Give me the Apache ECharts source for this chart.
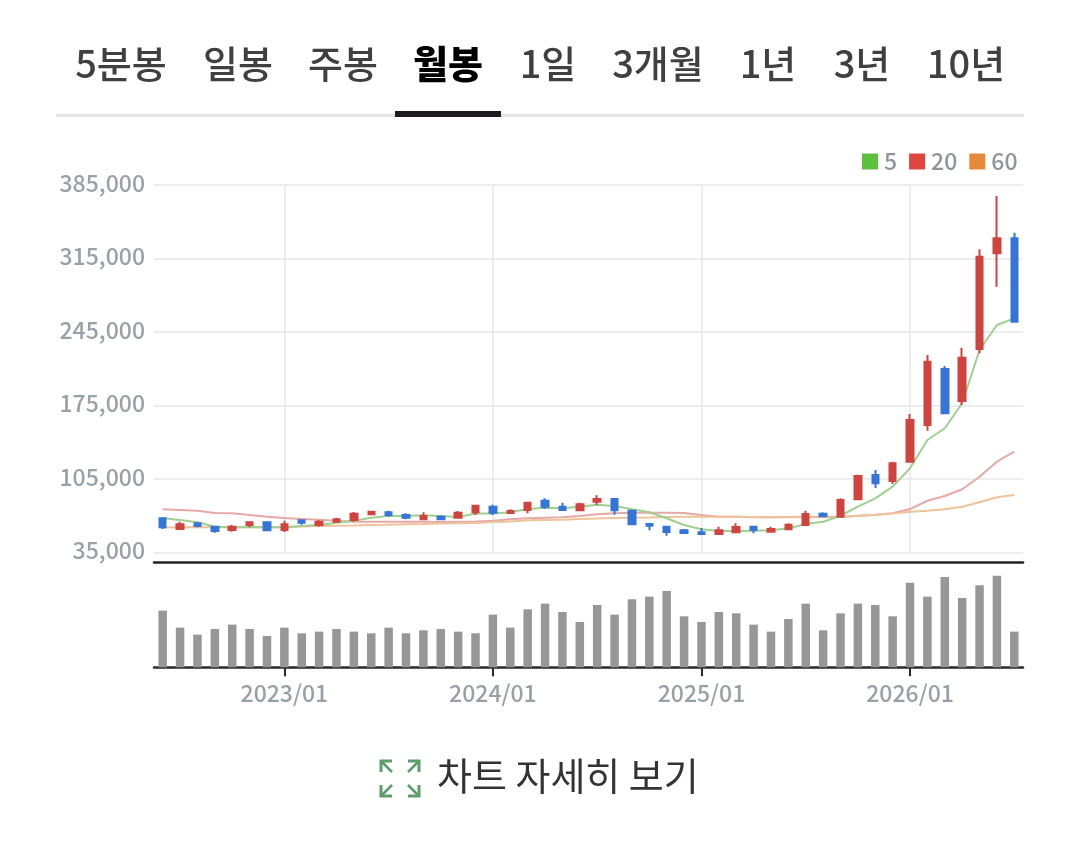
<!DOCTYPE html>
<html><head><meta charset="utf-8">
<style>html,body{margin:0;padding:0;background:#fff}#c{width:1080px;height:843px}</style>
<script src="https://cdn.jsdelivr.net/npm/echarts@6/dist/echarts.min.js"></script>
</head><body><div id="c"></div>
<script>
const months = ['2022/06','2022/07','2022/08','2022/09','2022/10','2022/11','2022/12',
'2023/01','2023/02','2023/03','2023/04','2023/05','2023/06','2023/07','2023/08','2023/09','2023/10','2023/11','2023/12',
'2024/01','2024/02','2024/03','2024/04','2024/05','2024/06','2024/07','2024/08','2024/09','2024/10','2024/11','2024/12',
'2025/01','2025/02','2025/03','2025/04','2025/05','2025/06','2025/07','2025/08','2025/09','2025/10','2025/11','2025/12',
'2026/01','2026/02','2026/03','2026/04','2026/05','2026/06','2026/07'];
// [open, close, low, high]
const candles = [
[67600,59000,57400,67900],[57400,61900,57400,64300],[62800,60200,59000,62800],[59600,55500,53600,59600],[56400,59600,54800,61200],
[61200,63800,59000,63800],[63800,56100,56100,63800],[56400,61900,54500,65300],[65700,63400,61500,65700],[61200,64300,59600,66000],
[64300,66600,63400,68100],[66000,72000,64300,73600],[71400,73900,71400,74800],[73300,70700,69100,74800],[70700,68100,66600,72300],
[66600,69800,66000,73300],[69100,66600,66600,70400],[68100,72900,68100,74500],[73300,79600,70700,79600],[78600,72900,70700,80500],
[72600,74500,72600,76100],[75500,82400,72300,83100],[84300,78600,76400,86600],[78600,75500,75500,82400],[75200,80900,75200,82400],
[83400,86000,80200,89500],[86000,75200,71000,86000],[74800,61900,61900,75800],[62100,60500,56100,62100],[59600,54500,51000,59600],
[56100,53600,52600,57400],[54200,52600,52600,58300],[52600,56100,52600,59600],[54200,59300,53300,62800],[59600,56400,53300,59600],
[54800,57400,54800,59600],[57100,61500,57100,62800],[61200,71700,60200,74800],[72000,69500,69500,73300],[69100,85000,68100,86600],
[85700,107900,85700,109100],[108800,100900,96400,113600],[103100,120000,100200,121500],[121500,161200,120500,166900],[156400,216700,151000,223100],
[209800,167600,167600,212600],[179300,220500,175500,230000],[228800,316700,224700,323800],[320000,334200,288100,374500],[334200,254800,254800,339600]];
const ma5 = [67600,66000,63800,59600,59000,59300,59000,59000,60200,61200,63400,65300,68100,69800,69800,70400,69800,68800,72100,72100,73300,76400,77700,77100,78600,80500,79300,76100,73300,67600,61200,57100,55500,55500,55800,56100,58000,62100,64300,70000,78600,86600,97700,115200,142100,153300,177100,227900,251700,258000];
const ma20 = [76100,75500,74800,72600,72300,70700,69100,67900,66900,66200,65300,64300,64300,64300,64300,64300,64000,64300,64500,65300,66600,67600,68100,68500,69800,71400,72300,72900,72900,72900,72600,70700,69100,69100,68500,68500,68800,69100,69100,69100,70000,71000,72300,76400,84300,88800,95200,107200,121500,131000];
const ma60 = [58800,59000,59000,59000,59000,59000,59000,59000,59800,60200,60500,60700,61200,61500,61900,62100,62600,62800,63100,64000,64500,65800,66000,66200,66900,67400,67900,68100,68300,68800,69000,69100,69100,69000,68800,68500,68500,68500,68500,68800,69800,70700,72100,73900,74800,76100,78600,82800,87600,89800];
const volume = [170,119,98,115,128,115,94,119,102,107,115,107,102,119,102,111,115,107,102,158,119,174,191,166,136,187,158,204,212,229,153,136,166,162,128,107,145,191,111,162,191,187,153,254,212,271,208,246,275,107];
const tabs = ['5분봉','일봉','주봉','월봉','1일','3개월','1년','3년','10년'];
const tabCenters = [121,238,343,448,548,658,768,862,966];
const activeTab = '월봉';
const footerText = '차트 자세히 보기';

const FONT = '"Noto Sans CJK KR","Noto Sans",sans-serif';
const isJan = (i, v) => String(v).endsWith('/01');
const UP = '#d0433f', DOWN = '#3575d8';

const graphics = [];
graphics.push({type:'rect',shape:{x:56,y:114,width:968,height:3},style:{fill:'#e4e4e4'},silent:true});
graphics.push({type:'rect',shape:{x:395,y:111,width:106,height:6},style:{fill:'#1c1c20'},silent:true});
tabs.forEach((t,i)=>graphics.push({type:'text',x:tabCenters[i],y:64,silent:true,style:{
  text:t,align:'center',verticalAlign:'middle',fontFamily:FONT,fontSize:38,
  fontWeight:t===activeTab?900:500,fill:t===activeTab?'#000':'#404040'}}));
graphics.push({type:'text',x:437,y:776,silent:true,style:{text:footerText,align:'left',verticalAlign:'middle',fontFamily:FONT,fontSize:38,fontWeight:400,fill:'#333'}});
const ic = '#5a9e6a';
[[[392,761],[381,761],[381,772]],[[408,761],[419,761],[419,772]],[[381,785],[381,796],[392,796]],[[408,796],[419,796],[419,785]]].forEach(p=>
  graphics.push({type:'polyline',shape:{points:p},style:{stroke:ic,lineWidth:3,fill:null},silent:true}));
[[[381,761],[392,772]],[[419,761],[408,772]],[[381,796],[392,785]],[[419,796],[408,785]]].forEach(p=>
  graphics.push({type:'polyline',shape:{points:p},style:{stroke:ic,lineWidth:2.5,fill:null},silent:true}));

const chart = echarts.init(document.getElementById('c'),null,{renderer:'canvas'});
chart.setOption({
  animation:false,
  backgroundColor:'#fff',
  textStyle:{fontFamily:FONT},
  graphic:graphics,
  legend:{
    data:[{name:'5',icon:'rect'},{name:'20',icon:'rect'},{name:'60',icon:'rect'}],
    left:862,top:150,itemWidth:16,itemHeight:16,itemGap:12,selectedMode:false,padding:0,
    textStyle:{color:'#8f959c',fontSize:23,fontWeight:500,fontFamily:FONT,padding:[0,0,3,1]}
  },
  grid:[
    {left:154,width:869,top:185,height:367.5},
    {left:154,width:869,top:567.3,height:100}
  ],
  xAxis:[
    {type:'category',gridIndex:0,data:months,offset:10,
     axisLine:{show:true,lineStyle:{color:'#222',width:2.5}},axisTick:{show:false},axisLabel:{show:false},
     splitLine:{show:true,interval:isJan,alignWithLabel:true,lineStyle:{color:'#e6e6ec',width:1.5}}},
    {type:'category',gridIndex:1,data:months,
     axisLine:{show:true,lineStyle:{color:'#2a2a2a',width:2.5}},
     axisTick:{show:true,interval:isJan,alignWithLabel:true,length:9,lineStyle:{color:'#2a2a2a',width:2}},
     axisLabel:{interval:isJan,color:'#9aa0a8',fontSize:23,fontWeight:500,fontFamily:FONT,margin:14},
     splitLine:{show:false}}
  ],
  yAxis:[
    {type:'value',gridIndex:0,min:35000,max:385000,interval:70000,
     axisLine:{show:false},axisTick:{show:false},
     axisLabel:{color:'#9aa0a8',fontSize:23,fontWeight:500,fontFamily:FONT,margin:9,verticalAlign:'bottom',lineHeight:4,
       formatter:v=>v.toLocaleString('en-US')},
     splitLine:{show:true,lineStyle:{color:'#e6e6ec',width:1.5}}},
    {type:'value',gridIndex:1,min:0,max:300,show:false,splitLine:{show:false}}
  ],
  series:[
    {name:'5',type:'line',data:ma5,xAxisIndex:0,yAxisIndex:0,showSymbol:false,symbol:'none',z:3,
     itemStyle:{color:'#5cc03f'},lineStyle:{color:'#9ed08f',width:2}},
    {name:'20',type:'line',data:ma20,xAxisIndex:0,yAxisIndex:0,showSymbol:false,symbol:'none',z:2,
     itemStyle:{color:'#e04540'},lineStyle:{color:'#e5a9a6',width:2}},
    {name:'60',type:'line',data:ma60,xAxisIndex:0,yAxisIndex:0,showSymbol:false,symbol:'none',z:2,
     itemStyle:{color:'#e68a3a'},lineStyle:{color:'#eec39c',width:2}},
    {type:'candlestick',data:candles,xAxisIndex:0,yAxisIndex:0,barWidth:7,z:5,
     itemStyle:{color:UP,color0:DOWN,borderColor:UP,borderColor0:DOWN,borderWidth:2}},
    {type:'bar',data:volume,xAxisIndex:1,yAxisIndex:1,barWidth:8.5,itemStyle:{color:'#979797'}}
  ]
});
</script></body></html>
